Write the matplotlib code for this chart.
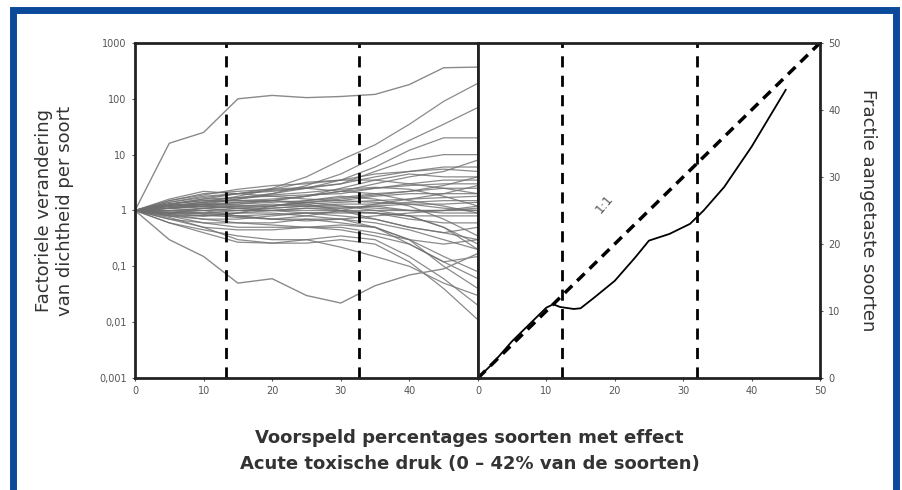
import numpy as np
import matplotlib
matplotlib.use('Agg')
import matplotlib.pyplot as plt
from matplotlib.patches import Rectangle

# x-punten (voorspeld percentage soorten met effect)
x_links = [0, 5, 10, 15, 20, 25, 30, 35, 40, 45, 50]

# bovenste en onderste soort (uitschieters)
top_soort = [1, 16, 25, 100, 115, 105, 110, 120, 180, 360, 370]
laag_soort = [1, 0.3, 0.15, 0.05, 0.06, 0.03, 0.022, 0.045, 0.07, 0.09, 0.17]

# overige soorten, factoriele verandering
bundel = [
    [1, 1.3, 1.6, 2.0, 2.5, 4, 8, 15, 35, 90, 190],
    [1, 1.2, 1.4, 1.6, 2.0, 2.8, 4.5, 9, 18, 35, 70],
    [1, 1.3, 1.5, 1.7, 2.0, 2.5, 3.5, 6, 12, 20, 20],
    [1, 1.4, 1.8, 2.0, 2.2, 2.5, 3.0, 5, 8, 10, 10],
    [1, 1.5, 2.0, 2.2, 2.4, 2.6, 3.0, 4, 5, 6, 6],
    [1, 1.2, 1.4, 1.5, 1.6, 1.8, 2.2, 3, 4, 5, 8],
    [1, 1.1, 1.3, 1.4, 1.5, 1.8, 2.5, 3.5, 4.5, 4, 4],
    [1, 1.3, 1.6, 1.7, 1.8, 1.9, 2.0, 2.5, 3, 3.5, 3.5],
    [1, 1.2, 1.3, 1.3, 1.5, 1.8, 2.2, 2.5, 2.8, 3, 3],
    [1, 1.1, 1.2, 1.3, 1.4, 1.5, 1.7, 2.0, 2.2, 2.5, 2.5],
    [1, 1.0, 1.1, 1.2, 1.2, 1.4, 1.5, 1.8, 2.0, 2.0, 2.0],
    [1, 1.2, 1.3, 1.2, 1.2, 1.3, 1.4, 1.5, 1.6, 1.7, 1.8],
    [1, 0.9, 1.0, 1.1, 1.1, 1.2, 1.3, 1.3, 1.4, 1.5, 1.5],
    [1, 1.0, 1.0, 1.0, 1.0, 1.0, 1.0, 1.0, 1.0, 1.0, 1.0],
    [1, 0.9, 0.9, 1.0, 1.0, 1.1, 1.1, 1.2, 1.0, 1.0, 1.2],
    [1, 1.1, 1.2, 1.1, 1.0, 0.9, 0.9, 0.9, 0.8, 0.8, 0.8],
    [1, 0.9, 0.8, 0.9, 1.0, 1.1, 1.0, 0.9, 0.7, 0.6, 0.6],
    [1, 0.8, 0.7, 0.7, 0.8, 0.9, 0.8, 0.7, 0.5, 0.4, 0.3],
    [1, 0.8, 0.6, 0.6, 0.6, 0.7, 0.7, 0.6, 0.45, 0.3, 0.2],
    [1, 0.7, 0.6, 0.5, 0.5, 0.5, 0.5, 0.4, 0.3, 0.15, 0.08],
    [1, 0.7, 0.5, 0.45, 0.45, 0.5, 0.55, 0.5, 0.3, 0.1, 0.04],
    [1, 0.6, 0.45, 0.35, 0.3, 0.3, 0.35, 0.3, 0.15, 0.06, 0.02],
    [1, 0.75, 0.5, 0.3, 0.26, 0.26, 0.3, 0.25, 0.12, 0.04, 0.011],
    [1, 0.85, 0.7, 0.6, 0.55, 0.5, 0.45, 0.35, 0.25, 0.12, 0.06],
    [1, 0.9, 0.9, 0.8, 0.7, 0.7, 0.6, 0.5, 0.3, 0.25, 0.3],
    [1, 1.1, 1.2, 1.4, 1.5, 1.3, 1.0, 0.7, 0.5, 0.4, 0.5],
    [1, 1.4, 1.7, 2.0, 2.3, 2.5, 2.2, 2.0, 1.5, 1.2, 0.9],
    [1, 1.3, 1.5, 1.5, 1.5, 1.4, 1.2, 1.0, 0.8, 0.5, 0.25],
    [1, 1.0, 0.9, 0.9, 0.9, 0.8, 0.7, 0.5, 0.25, 0.12, 0.15],
    [1, 1.6, 2.2, 2.0, 1.8, 1.6, 1.5, 1.4, 1.3, 1.3, 1.4],
    [1, 1.2, 1.4, 1.8, 2.4, 3.2, 3.5, 3.5, 3, 2.5, 2],
    [1, 0.6, 0.4, 0.27, 0.26, 0.3, 0.22, 0.15, 0.1, 0.05, 0.03],
    [1, 1.5, 1.9, 2.4, 2.8, 3.0, 3.5, 4.5, 5, 5.5, 5],
    [1, 0.8, 0.8, 0.9, 1.2, 1.5, 1.8, 1.6, 1.2, 0.7, 0.35],
    [1, 1.1, 1.0, 0.8, 0.7, 0.8, 1.0, 1.3, 1.6, 2.0, 2.8],
    [1, 1.2, 1.1, 1.0, 1.1, 1.2, 1.2, 1.1, 1.0, 0.9, 0.9],
    [1, 0.9, 1.1, 1.2, 1.3, 1.2, 1.1, 1.2, 1.3, 1.1, 1.0],
    [1, 1.3, 1.2, 1.1, 1.2, 1.4, 1.6, 1.9, 2.2, 2.8, 4.0],
    [1, 0.85, 0.8, 0.8, 0.85, 0.9, 0.95, 0.9, 0.8, 0.5, 0.2],
    [1, 1.1, 1.3, 1.6, 1.9, 2.1, 2.4, 2.6, 2.4, 1.8, 1.2],
    [1, 0.95, 0.85, 0.75, 0.7, 0.65, 0.7, 0.8, 0.9, 1.0, 1.1],
]

# rechter paneel: fractie aangetaste soorten
x_rechts = [0, 2, 5, 8, 10, 11, 12, 14, 15, 17, 20, 23, 25, 28, 31, 33, 36, 40, 45]
fractie = [0, 2, 5.5, 8.5, 10.5, 11, 10.6, 10.3, 10.4, 12, 14.5, 18, 20.5, 21.5, 23, 25, 28.5, 34.5, 43]
lijn_11 = [0, 50]

# ticks
yticks_links = [0.001, 0.01, 0.1, 1, 10, 100, 1000]
ylabels_links = ['0,001', '0,01', '0,1', '1', '10', '100', '1000']

fig = plt.figure(figsize=(9.03, 4.9), dpi=100)
fig.patch.set_facecolor('white')

ax1 = fig.add_axes([0.1495, 0.2286, 0.3798, 0.6837])
ax2 = fig.add_axes([0.5293, 0.2286, 0.3787, 0.6837])

# linker paneel
for reeks in bundel:
    ax1.plot(x_links, reeks, color='#6e6e6e', lw=0.9, alpha=0.8)
ax1.plot(x_links, top_soort, color='#8a8a8a', lw=1.0)
ax1.plot(x_links, laag_soort, color='#8a8a8a', lw=1.0)
ax1.axvline(13.3, color='black', lw=2, ls=(0, (4, 3)))
ax1.axvline(32.7, color='black', lw=2, ls=(0, (4, 3)))
ax1.set_yscale('log')
ax1.set_ylim(0.001, 1000)
ax1.set_xlim(0, 50)
ax1.set_yticks(yticks_links)
ax1.set_yticklabels(ylabels_links)
ax1.minorticks_off()
ax1.set_xticks([0, 10, 20, 30, 40])
ax1.set_ylabel('Factoriele verandering\nvan dichtheid per soort', fontsize=13,
               color='#333333', labelpad=18)

# rechter paneel
ax2.plot(lijn_11, lijn_11, color='black', lw=2.5, ls=(0, (3, 2)))
ax2.plot(x_rechts, fractie, color='black', lw=1.3)
ax2.axvline(12.3, color='black', lw=2, ls=(0, (4, 3)))
ax2.axvline(32, color='black', lw=2, ls=(0, (4, 3)))
ax2.text(18.5, 26, '1:1', rotation=50, fontsize=9, color='#555555',
         ha='center', va='center')
ax2.set_xlim(0, 50)
ax2.set_ylim(0, 50)
ax2.set_xticks([0, 10, 20, 30, 40, 50])
ax2.set_yticks([0, 10, 20, 30, 40, 50])
ax2.yaxis.tick_right()
ax2.yaxis.set_label_position('right')
ax2.set_ylabel('Fractie aangetaste soorten', fontsize=13, color='#333333',
               rotation=270, labelpad=26)

for ax in (ax1, ax2):
    for sp in ax.spines.values():
        sp.set_linewidth(2)
        sp.set_color('#222222')
    ax.tick_params(length=2, labelsize=7, colors='#555555', pad=4)

fig.text(0.52, 0.095, 'Voorspeld percentages soorten met effect', ha='center',
         fontsize=13, fontweight='bold', color='#333333')
fig.text(0.52, 0.042, 'Acute toxische druk (0 – 42% van de soorten)', ha='center',
         fontsize=13, fontweight='bold', color='#333333')

# blauwe kader
fig.patches.append(Rectangle((13.5 / 903, -0.1), 883 / 903, 1.0786,
                             transform=fig.transFigure, fill=False,
                             edgecolor='#0b4a9b', lw=5.0))

plt.savefig('out.png', dpi=100)
